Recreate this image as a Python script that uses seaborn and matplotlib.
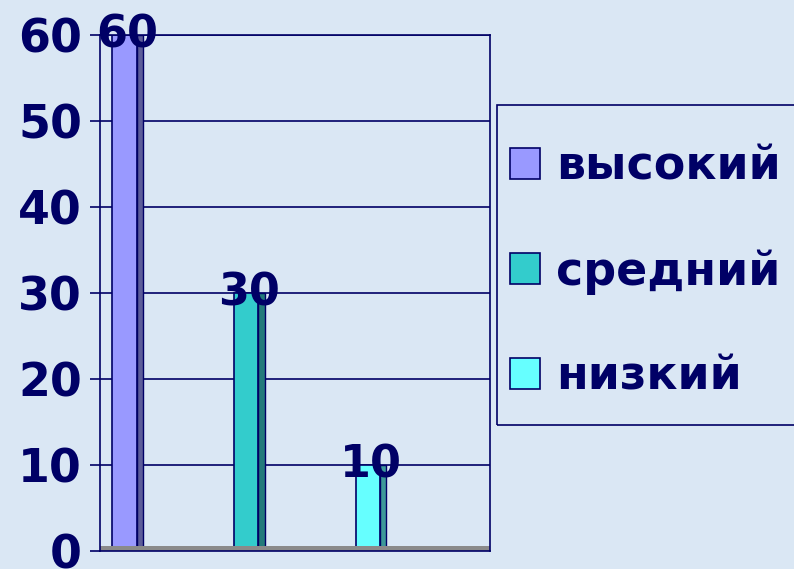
import numpy as np
import pandas as pd
import seaborn as sns
import matplotlib
matplotlib.use("Agg")
import matplotlib.pyplot as plt
from matplotlib.patches import Rectangle

# chart data
levels = ["высокий", "средний", "низкий"]
values = [60, 30, 10]
level_group = ["1", "2", "3"]
groups = ["1", "2", "3", "4"]
y_ticks = [0, 10, 20, 30, 40, 50, 60]

navy = "#000066"
bg = "#dae7f4"
colors = {"высокий": "#9999ff", "средний": "#33cccc", "низкий": "#66ffff"}
side_colors = {"высокий": "#5c5c99", "средний": "#237a7a", "низкий": "#3d9999"}

df = pd.DataFrame({"group": level_group, "level": levels, "value": values})

sns.set_style("white")
plt.rcParams["font.family"] = ["DejaVu Sans"]

fig = plt.figure(figsize=(7.94, 5.69), dpi=100, facecolor=bg)
ax = fig.add_axes([0.126, 0.0316, 0.491, 0.907])
ax.set_facecolor("none")

sns.barplot(
    data=df, x="group", y="value", hue="level",
    order=groups, hue_order=levels, palette=colors, saturation=1,
    width=0.75, dodge=True, edgecolor=navy, linewidth=1.2,
    ax=ax
)

# grey floor strip
ax.axhspan(0, 0.6, color="#8a8a8a", zorder=1.5, lw=0)

# darker side face + value labels
for cont, lev in zip(ax.containers, levels):
    for b in cont:
        h = b.get_height()
        if np.isnan(h) or h == 0:
            continue
        side_w = b.get_width() * 0.25
        ax.add_patch(Rectangle((b.get_x() + b.get_width(), 0), side_w, h,
                               facecolor=side_colors[lev], edgecolor=navy,
                               linewidth=1.0, zorder=b.get_zorder()))
        ax.text(b.get_x() + b.get_width() / 2 + side_w / 2, h, f"{h:.0f}",
                ha="center", va="center", fontsize=32,
                fontweight="bold", color=navy, zorder=5)

ax.set_xlim(-0.5, 3.5)
ax.set_ylim(0, 60)
ax.set_xlabel("")
ax.set_ylabel("")

ax.set_xticks([])
ax.set_xticks(np.arange(-0.5, len(groups), 1), minor=True)
ax.tick_params(axis="x", which="minor", length=6, width=1.2,
               color=navy, direction="out", labelbottom=False)

ax.set_yticks(y_ticks)
ax.set_yticklabels([str(t) for t in y_ticks], fontsize=33,
                   fontweight="bold", color=navy)
ax.tick_params(axis="y", length=7, width=1.2, color=navy,
               direction="out", pad=6, left=True)

ax.yaxis.grid(True, color=navy, linewidth=1.2)
ax.set_axisbelow(True)

for s in ax.spines.values():
    s.set_visible(True)
    s.set_color(navy)
    s.set_linewidth(1.2)

handles, labels = ax.get_legend_handles_labels()
ax.get_legend().remove()

# legend box
fig.patches.append(Rectangle((497 / 794, 1 - 425 / 569), 0.5, (425 - 105) / 569,
                             transform=fig.transFigure, facecolor="none",
                             edgecolor=navy, linewidth=1.2))
leg = fig.legend(
    handles, labels, loc="upper left", bbox_to_anchor=(0.642, 0.746),
    bbox_transform=fig.transFigure, frameon=False,
    prop={"weight": "bold", "size": 33}, labelcolor=navy,
    handlelength=0.66, handleheight=0.66, handletextpad=0.35,
    labelspacing=1.3, borderpad=0, borderaxespad=0
)

plt.savefig("out.png", dpi=100, facecolor=bg)
plt.close()
